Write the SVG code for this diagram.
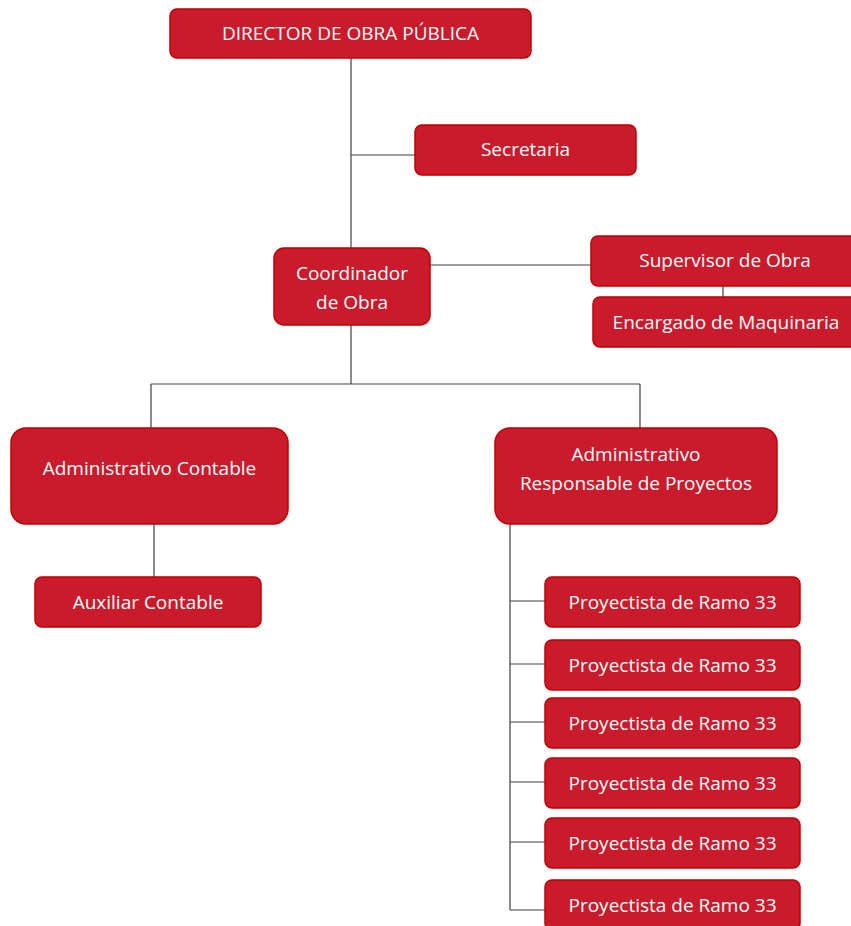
<svg xmlns="http://www.w3.org/2000/svg" width="851" height="926" viewBox="0 0 851 926">
<style>
.n{fill:#C91B2C;stroke:#C00000;stroke-width:1.5}
.t{fill:#fff;font-family:"Open Sans","Liberation Sans",sans-serif;font-size:19px;text-anchor:middle}
.c{fill:none;stroke:#404040;stroke-width:1.2}
</style>
<rect width="851" height="926" fill="#fff"/>
<g id="connectors">
<path class="c" d="M351 58V248M351 155H415M430 265H591M723 286V297M351 325V384M151 384H640M151 384V428M640 384V428M154 524V577M510 524V910M510 601H545M510 664H545M510 722H545M510 782H545M510 842H545M510 910H545"/>
</g>
<g id="director"><rect class="n" x="170" y="9" width="361" height="49" rx="7"/><text class="t" x="350.5" y="40">DIRECTOR DE OBRA PÚBLICA</text></g>
<g id="secretaria"><rect class="n" x="415" y="125" width="221" height="50" rx="7"/><text class="t" x="525.5" y="156">Secretaria</text></g>
<g id="coordinador"><rect class="n" x="274" y="248" width="156" height="77" rx="10"/><text class="t" x="352" y="280">Coordinador</text><text class="t" x="352" y="309">de Obra</text></g>
<g id="supervisor"><rect class="n" x="591" y="236" width="270" height="50" rx="7"/><text class="t" x="725" y="267">Supervisor de Obra</text></g>
<g id="encargado"><rect class="n" x="593" y="297" width="268" height="50" rx="7"/><text class="t" x="726" y="329">Encargado de Maquinaria</text></g>
<g id="adm-contable"><rect class="n" x="11" y="428" width="277" height="96" rx="15"/><text class="t" x="149.5" y="475">Administrativo Contable</text></g>
<g id="auxiliar"><rect class="n" x="35" y="577" width="226" height="50" rx="7"/><text class="t" x="148" y="609">Auxiliar Contable</text></g>
<g id="adm-proyectos"><rect class="n" x="495" y="428" width="282" height="96" rx="15"/><text class="t" x="636" y="461">Administrativo</text><text class="t" x="636" y="490">Responsable de Proyectos</text></g>
<g id="p1"><rect class="n" x="545" y="577" width="255" height="50" rx="7"/><text class="t" x="672.5" y="609">Proyectista de Ramo 33</text></g>
<g id="p2"><rect class="n" x="545" y="640" width="255" height="50" rx="7"/><text class="t" x="672.5" y="672">Proyectista de Ramo 33</text></g>
<g id="p3"><rect class="n" x="545" y="698" width="255" height="50" rx="7"/><text class="t" x="672.5" y="730">Proyectista de Ramo 33</text></g>
<g id="p4"><rect class="n" x="545" y="758" width="255" height="50" rx="7"/><text class="t" x="672.5" y="790">Proyectista de Ramo 33</text></g>
<g id="p5"><rect class="n" x="545" y="818" width="255" height="50" rx="7"/><text class="t" x="672.5" y="850">Proyectista de Ramo 33</text></g>
<g id="p6"><rect class="n" x="545" y="880" width="255" height="50" rx="7"/><text class="t" x="672.5" y="912">Proyectista de Ramo 33</text></g>
</svg>
